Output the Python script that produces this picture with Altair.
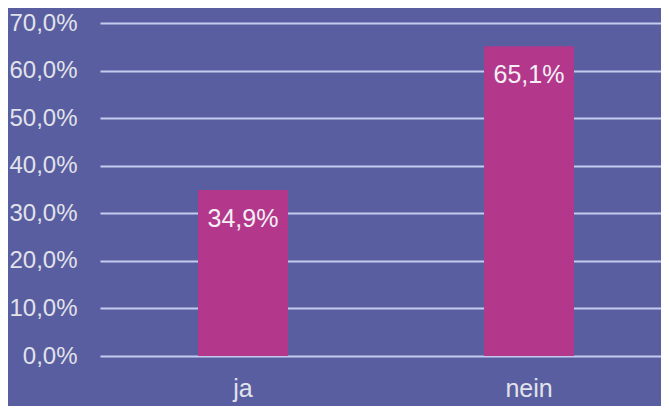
import altair as alt
import pandas as pd

categories = ["ja", "nein"]
values = [0.349, 0.651]
y_ticks = [0.0, 0.1, 0.2, 0.3, 0.4, 0.5, 0.6, 0.7]

df = pd.DataFrame({"cat": categories, "value": values})

BG = "#585ea0"
BAR = "#b3388c"
GRID = "#c4cbee"
TXT = "#e2e2ea"
FONT = "Liberation Sans"

base = alt.Chart(df).encode(
    x=alt.X("cat:N", sort=categories, title=None,
            scale=alt.Scale(range=[0, 572], paddingInner=0, paddingOuter=0),
            axis=alt.Axis(labelAngle=0, labelFontSize=25, labelColor=TXT, labelFont=FONT,
                          ticks=False, domain=False, grid=False, labelPadding=20)),
    y=alt.Y("value:Q", title=None,
            scale=alt.Scale(domain=[0, 0.7], nice=False),
            axis=alt.Axis(values=y_ticks, labelExpr="replace(format(datum.value, '.1%'), '.', ',')",
                          labelFontSize=24, labelColor=TXT, labelFont=FONT, ticks=False, domain=False,
                          labelPadding=23, gridColor=GRID, gridWidth=2, gridOpacity=1)),
)

bars = base.mark_bar(size=90, color=BAR)
labels = base.transform_calculate(
    lbl="replace(format(datum.value, '.1%'), '.', ',')"
).mark_text(baseline="middle", dy=29, fontSize=25, color="#f4f0f6", font=FONT).encode(text="lbl:N")

chart = (bars + labels).properties(
    width=561, height=333,
    autosize=alt.AutoSizeParams(type="none"),
    padding={"left": 92, "top": 15, "right": 0, "bottom": 50},
).configure(background=BG).configure_view(stroke=None)

chart.save("out.html", embed_options={"renderer": "svg", "actions": False})
